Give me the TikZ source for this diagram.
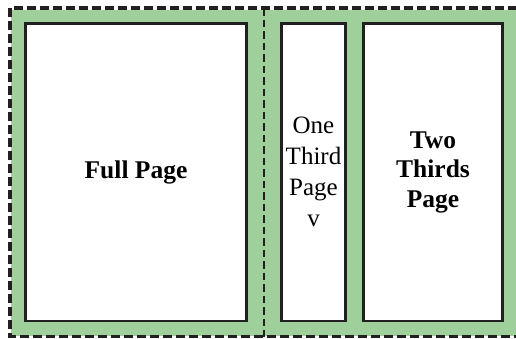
\documentclass[tikz,border=0pt]{standalone}
\usepackage{fontspec}
\setmainfont{Liberation Serif}
\definecolor{pagegreen}{RGB}{159,207,154}
\definecolor{boxline}{RGB}{35,31,32}
\begin{document}
\begin{tikzpicture}[x=1pt,y=-1pt,
  pagebox/.style={draw=boxline,line width=2.4pt,fill=white,rectangle,inner sep=0pt,align=center},
  boldlabel/.style={font=\fontsize{25.5}{29.5}\selectfont\bfseries},
  thinlabel/.style={font=\fontsize{25}{31}\selectfont},
  outerdash/.style={draw=boxline,line width=3.8pt,dash pattern=on 9pt off 4pt},
  middash/.style={draw=boxline,line width=2pt,dash pattern=on 7.5pt off 4pt}]
\useasboundingbox (0,0) rectangle (516,338);
\fill[pagegreen] (11,9.5) rectangle (520,335.5);
\draw[outerdash] (530,7.7) -- (10.3,7.7) -- (10.3,336.5) -- (530,336.5);
\coordinate (mtop) at (264,8);
\coordinate (mbot) at (264,337);
\draw[middash] (mtop) -- (mbot);
\node[pagebox,boldlabel,minimum width=221pt,minimum height=297.5pt] (full) at (136,172.25) {Full Page};
\node[pagebox,thinlabel,minimum width=64pt,minimum height=297.5pt] (third) at (313.5,172.25) {One\\Third\\Page\\v};
\node[pagebox,boldlabel,minimum width=139pt,minimum height=297.5pt] (twothirds) at (433,172.25) {Two\\Thirds\\Page};
\end{tikzpicture}
\end{document}
